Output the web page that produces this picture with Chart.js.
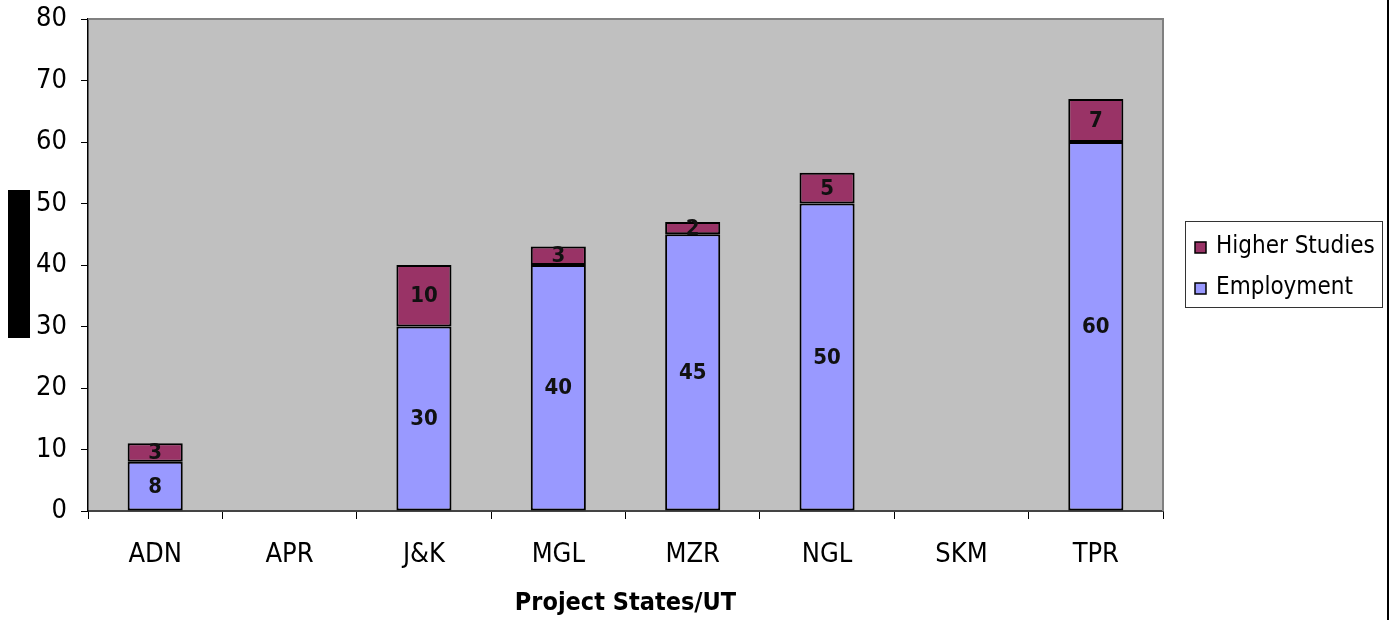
<!DOCTYPE html>
<html>
<head>
<meta charset="utf-8">
<script src="https://cdn.jsdelivr.net/npm/chart.js@4.4.1/dist/chart.umd.min.js"></script>
<style>
  html, body { margin: 0; padding: 0; background: #ffffff; }
  #wrap { width: 1395px; height: 620px; position: relative; }
</style>
</head>
<body>
<div id="wrap"><canvas id="chart" width="1395" height="620"></canvas></div>
<script>
// Students placed after the programme, by project state / UT
const categories = ['ADN', 'APR', 'J&K', 'MGL', 'MZR', 'NGL', 'SKM', 'TPR'];
const employment = [8, null, 30, 40, 45, 50, null, 60];
const higherStudies = [3, null, 10, 3, 2, 5, null, 7];
const yMin = 0;
const yMax = 80;
const yStep = 10;

const FONT = "'DejaVu Sans Condensed', 'DejaVu Sans', sans-serif";

// Grey plot background plus the dark side panels of the page
const backdrop = {
  id: 'backdrop',
  beforeDraw(chart) {
    const { ctx, chartArea: a } = chart;
    ctx.save();
    ctx.fillStyle = '#C0C0C0';
    ctx.fillRect(a.left, a.top, a.right - a.left, a.bottom - a.top);
    ctx.fillStyle = '#000000';
    ctx.fillRect(8, 190, 22, 148);
    ctx.fillRect(1387, 0, 2, 620);
    ctx.restore();
  }
};

// Thin grey frame on the top and right of the plot area
const plotFrame = {
  id: 'plotFrame',
  afterDraw(chart) {
    const { ctx, chartArea: a } = chart;
    ctx.save();
    ctx.strokeStyle = '#808080';
    ctx.lineWidth = 2;
    ctx.beginPath();
    ctx.moveTo(a.left, a.top);
    ctx.lineTo(a.right, a.top);
    ctx.lineTo(a.right, a.bottom);
    ctx.stroke();
    ctx.restore();
  }
};

// Value written in the middle of each stacked segment
const segmentLabels = {
  id: 'segmentLabels',
  afterDatasetsDraw(chart) {
    const { ctx } = chart;
    ctx.save();
    ctx.font = "bold 22px " + FONT;
    ctx.fillStyle = '#111111';
    ctx.textAlign = 'center';
    ctx.textBaseline = 'middle';
    chart.data.datasets.forEach((ds, i) => {
      const meta = chart.getDatasetMeta(i);
      meta.data.forEach((bar, j) => {
        const v = ds.data[j];
        if (v === null || v === undefined || v === 0) return;
        const y = (bar.y + bar.base) / 2;
        ctx.fillText(String(v), bar.x, y + 1);
      });
    });
    ctx.restore();
  }
};

// Boxed legend to the right of the plot, top series first
const boxedLegend = {
  id: 'boxedLegend',
  afterDraw(chart) {
    const { ctx } = chart;
    const left = 1185, top = 221, width = 197, height = 86;
    ctx.save();
    ctx.strokeStyle = '#333333';
    ctx.lineWidth = 1;
    ctx.strokeRect(left + 0.5, top + 0.5, width, height);
    const order = chart.data.datasets.map((d, i) => i).reverse();
    ctx.font = "24px " + FONT;
    ctx.textAlign = 'left';
    ctx.textBaseline = 'middle';
    order.forEach((dsIndex, row) => {
      const ds = chart.data.datasets[dsIndex];
      const cy = top + 25 + row * 41;
      ctx.fillStyle = ds.backgroundColor;
      ctx.fillRect(1195, cy - 4, 11, 11);
      ctx.strokeStyle = '#000000';
      ctx.lineWidth = 1.5;
      ctx.strokeRect(1195, cy - 4, 11, 11);
      ctx.fillStyle = '#000000';
      ctx.fillText(ds.label, 1216, cy + 1);
    });
    ctx.restore();
  }
};

new Chart(document.getElementById('chart'), {
  type: 'bar',
  data: {
    labels: categories,
    datasets: [
      {
        label: 'Employment',
        data: employment,
        backgroundColor: '#9999FF',
        borderColor: '#000000',
        borderWidth: 2,
        borderSkipped: false
      },
      {
        label: 'Higher Studies',
        data: higherStudies,
        backgroundColor: '#993366',
        borderColor: '#000000',
        borderWidth: 2,
        borderSkipped: false
      }
    ]
  },
  options: {
    responsive: false,
    animation: false,
    devicePixelRatio: 1,
    layout: { padding: { top: 19, right: 232, left: 0, bottom: 0 } },
    datasets: { bar: { categoryPercentage: 1, barPercentage: 0.41 } },
    plugins: {
      legend: { display: false },
      tooltip: { enabled: false }
    },
    scales: {
      x: {
        stacked: true,
        offset: true,
        grid: { offset: true, drawOnChartArea: false, drawTicks: true, tickLength: 8, color: '#000000', lineWidth: 1 },
        border: { display: true, color: '#444444', width: 2 },
        ticks: { color: '#000000', font: { family: FONT, size: 27 }, padding: 20 },
        title: {
          display: true,
          text: 'Project States/UT',
          color: '#000000',
          font: { family: FONT, size: 25, weight: 'bold' },
          padding: { top: 0, bottom: 2 }
        },
        afterFit(scale) {
          scale.height = 109;
          scale.paddingLeft = 0;
          scale.paddingRight = 0;
        }
      },
      y: {
        stacked: true,
        min: yMin,
        max: yMax,
        grid: { drawOnChartArea: false, drawTicks: true, tickLength: 7, color: '#000000', lineWidth: 1 },
        border: { display: true, color: '#000000', width: 1.5 },
        ticks: { stepSize: yStep, color: '#000000', font: { family: FONT, size: 27 }, padding: 14 },
        afterFit(scale) {
          scale.width = 88;
          scale.paddingTop = 0;
          scale.paddingBottom = 0;
        }
      }
    }
  },
  plugins: [backdrop, plotFrame, segmentLabels, boxedLegend]
});
</script>
</body>
</html>
